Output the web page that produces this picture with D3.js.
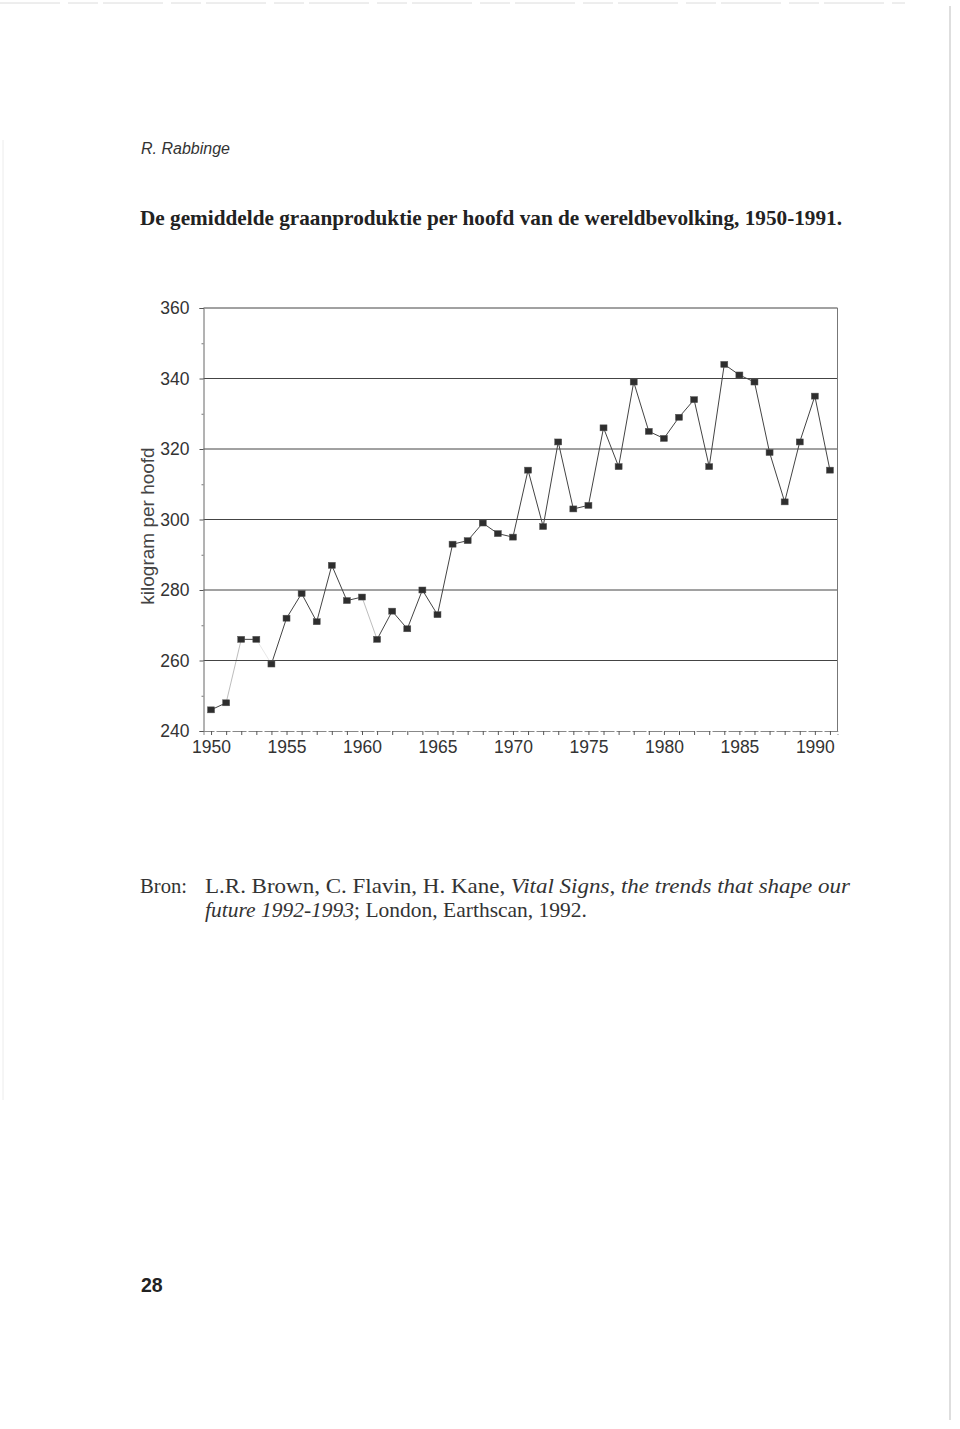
<!DOCTYPE html>
<html>
<head>
<meta charset="utf-8">
<script src="https://cdn.jsdelivr.net/npm/d3@7"></script>
<style>
  html, body { margin: 0; padding: 0; background: #fff; }
  svg { display: block; }
</style>
</head>
<body>
<script>
// ---- data ----
const years = [1950,1951,1952,1953,1954,1955,1956,1957,1958,1959,1960,1961,1962,1963,1964,1965,1966,1967,1968,1969,1970,1971,1972,1973,1974,1975,1976,1977,1978,1979,1980,1981,1982,1983,1984,1985,1986,1987,1988,1989,1990,1991];
const kgPerCapita = [246,248,266,266,259,272,279,271,287,277,278,266,274,269,280,273,293,294,299,296,295,314,298,322,303,304,326,315,339,325,323,329,334,315,344,341,339,319,305,322,335,314];
const yTicks = [240,260,280,300,320,340,360];
const yMinorTicks = [250,270,290,310,330,350];
const xTickLabels = [1950,1955,1960,1965,1970,1975,1980,1985,1990];
const faintSegmentsFrom = [1951,1953,1960]; // segments that are faded in the print

const W = 960, H = 1429;
const svg = d3.select("body").append("svg").attr("width", W).attr("height", H);

// page scan edges
svg.append("line").attr("x1", 0).attr("x2", 905).attr("y1", 3).attr("y2", 3)
  .attr("stroke", "#dcdcdc").attr("stroke-width", 1).attr("stroke-dasharray", "60,8,30,5");
svg.append("line").attr("x1", 950).attr("x2", 950).attr("y1", 6).attr("y2", 1420)
  .attr("stroke", "#c8c8c8").attr("stroke-width", 1.2);
svg.append("line").attr("x1", 3).attr("x2", 3).attr("y1", 140).attr("y2", 1100)
  .attr("stroke", "#ececec").attr("stroke-width", 1);

// header
svg.append("text").attr("x", 141).attr("y", 154)
  .attr("font-family", "Liberation Sans, Arial, sans-serif").attr("font-style", "italic")
  .attr("font-size", 16).attr("fill", "#333").text("R. Rabbinge");

svg.append("text").attr("x", 140).attr("y", 225)
  .attr("font-family", "Liberation Serif, Times New Roman, serif").attr("font-weight", "bold")
  .attr("font-size", 21).attr("fill", "#222")
  .attr("textLength", 702).attr("lengthAdjust", "spacingAndGlyphs")
  .text("De gemiddelde graanproduktie per hoofd van de wereldbevolking, 1950-1991.");

// chart geometry
const pLeft = 203.5, pRight = 837.5, pTop = 308, pBottom = 731;
const x = d3.scaleLinear().domain([1949.5, 1991.5]).range([pLeft, pRight]);
const y = d3.scaleLinear().domain([240, 360]).range([pBottom, pTop]);

const g = svg.append("g");

// gridlines
g.selectAll("line.grid").data(yTicks.filter(v => v > 240)).enter().append("line")
  .attr("x1", pLeft).attr("x2", pRight)
  .attr("y1", d => y(d)).attr("y2", d => y(d))
  .attr("stroke", "#444").attr("stroke-width", 1);

// right border
g.append("line").attr("x1", pRight).attr("x2", pRight).attr("y1", pTop).attr("y2", pBottom)
  .attr("stroke", "#777").attr("stroke-width", 1);

// y axis
const yAxis = d3.axisLeft(y).tickValues(yTicks).tickSize(4).tickPadding(10);
const ya = svg.append("g").attr("transform", `translate(${pLeft},0)`).call(yAxis);
ya.select(".domain").attr("stroke", "#666").attr("stroke-width", 1);
ya.selectAll(".tick line").attr("stroke", "#555");
ya.selectAll("text").attr("font-family", "Liberation Sans, Arial, sans-serif")
  .attr("font-size", 17.5).attr("fill", "#333");
const yMinor = d3.axisLeft(y).tickValues(yMinorTicks).tickSize(2).tickFormat("");
const ym = svg.append("g").attr("transform", `translate(${pLeft},0)`).call(yMinor);
ym.select(".domain").remove();
ym.selectAll(".tick line").attr("stroke", "#777");

// x axis
const xAxis = d3.axisBottom(x).tickValues(years).tickSize(4).tickPadding(6)
  .tickFormat(d => xTickLabels.includes(d) ? d : "");
const xa = svg.append("g").attr("transform", `translate(0,${pBottom})`).call(xAxis);
xa.select(".domain").attr("stroke", "#888").attr("stroke-width", 1).attr("stroke-dasharray", "14,2");
xa.selectAll(".tick line").attr("stroke", "#555");
xa.selectAll("text").attr("font-family", "Liberation Sans, Arial, sans-serif")
  .attr("font-size", 17.5).attr("fill", "#333");

// y axis title
svg.append("text")
  .attr("transform", `translate(154,526) rotate(-90)`)
  .attr("text-anchor", "middle")
  .attr("font-family", "Liberation Sans, Arial, sans-serif")
  .attr("font-size", 19).attr("fill", "#444")
  .text("kilogram per hoofd");

// line segments
const pts = years.map((yr, i) => ({ yr, v: kgPerCapita[i] }));
const segs = pts.slice(0, -1).map((p, i) => ({ a: p, b: pts[i + 1] }));
g.selectAll("line.seg").data(segs).enter().append("line")
  .attr("x1", d => x(d.a.yr)).attr("y1", d => y(d.a.v))
  .attr("x2", d => x(d.b.yr)).attr("y2", d => y(d.b.v))
  .attr("stroke", "#444").attr("stroke-width", 1)
  .attr("opacity", d => d.a.yr === 1953 ? 0.12 : (faintSegmentsFrom.includes(d.a.yr) ? 0.35 : 1));

// markers
g.selectAll("rect.m").data(pts).enter().append("rect")
  .attr("x", d => x(d.yr) - 3.5).attr("y", d => y(d.v) - 3)
  .attr("width", 7).attr("height", 6)
  .attr("fill", "#2e2e2e").attr("stroke", "#555").attr("stroke-width", 0.5);

// source
const src = svg.append("g").attr("font-family", "Liberation Serif, Times New Roman, serif")
  .attr("font-size", 21).attr("fill", "#333");
src.append("text").attr("x", 140).attr("y", 893)
  .attr("textLength", 47).attr("lengthAdjust", "spacingAndGlyphs").text("Bron:");
const l1 = src.append("text").attr("x", 205).attr("y", 893)
  .attr("textLength", 645).attr("lengthAdjust", "spacingAndGlyphs");
l1.append("tspan").text("L.R. Brown, C. Flavin, H. Kane, ");
l1.append("tspan").attr("font-style", "italic").text("Vital Signs, the trends that shape our");
const l2 = src.append("text").attr("x", 205).attr("y", 917)
  .attr("textLength", 382).attr("lengthAdjust", "spacingAndGlyphs");
l2.append("tspan").attr("font-style", "italic").text("future 1992-1993");
l2.append("tspan").text("; London, Earthscan, 1992.");

// page number
svg.append("text").attr("x", 141).attr("y", 1292)
  .attr("font-family", "Liberation Sans, Arial, sans-serif").attr("font-weight", "bold")
  .attr("font-size", 19.5).attr("fill", "#222").text("28");
</script>
</body>
</html>
